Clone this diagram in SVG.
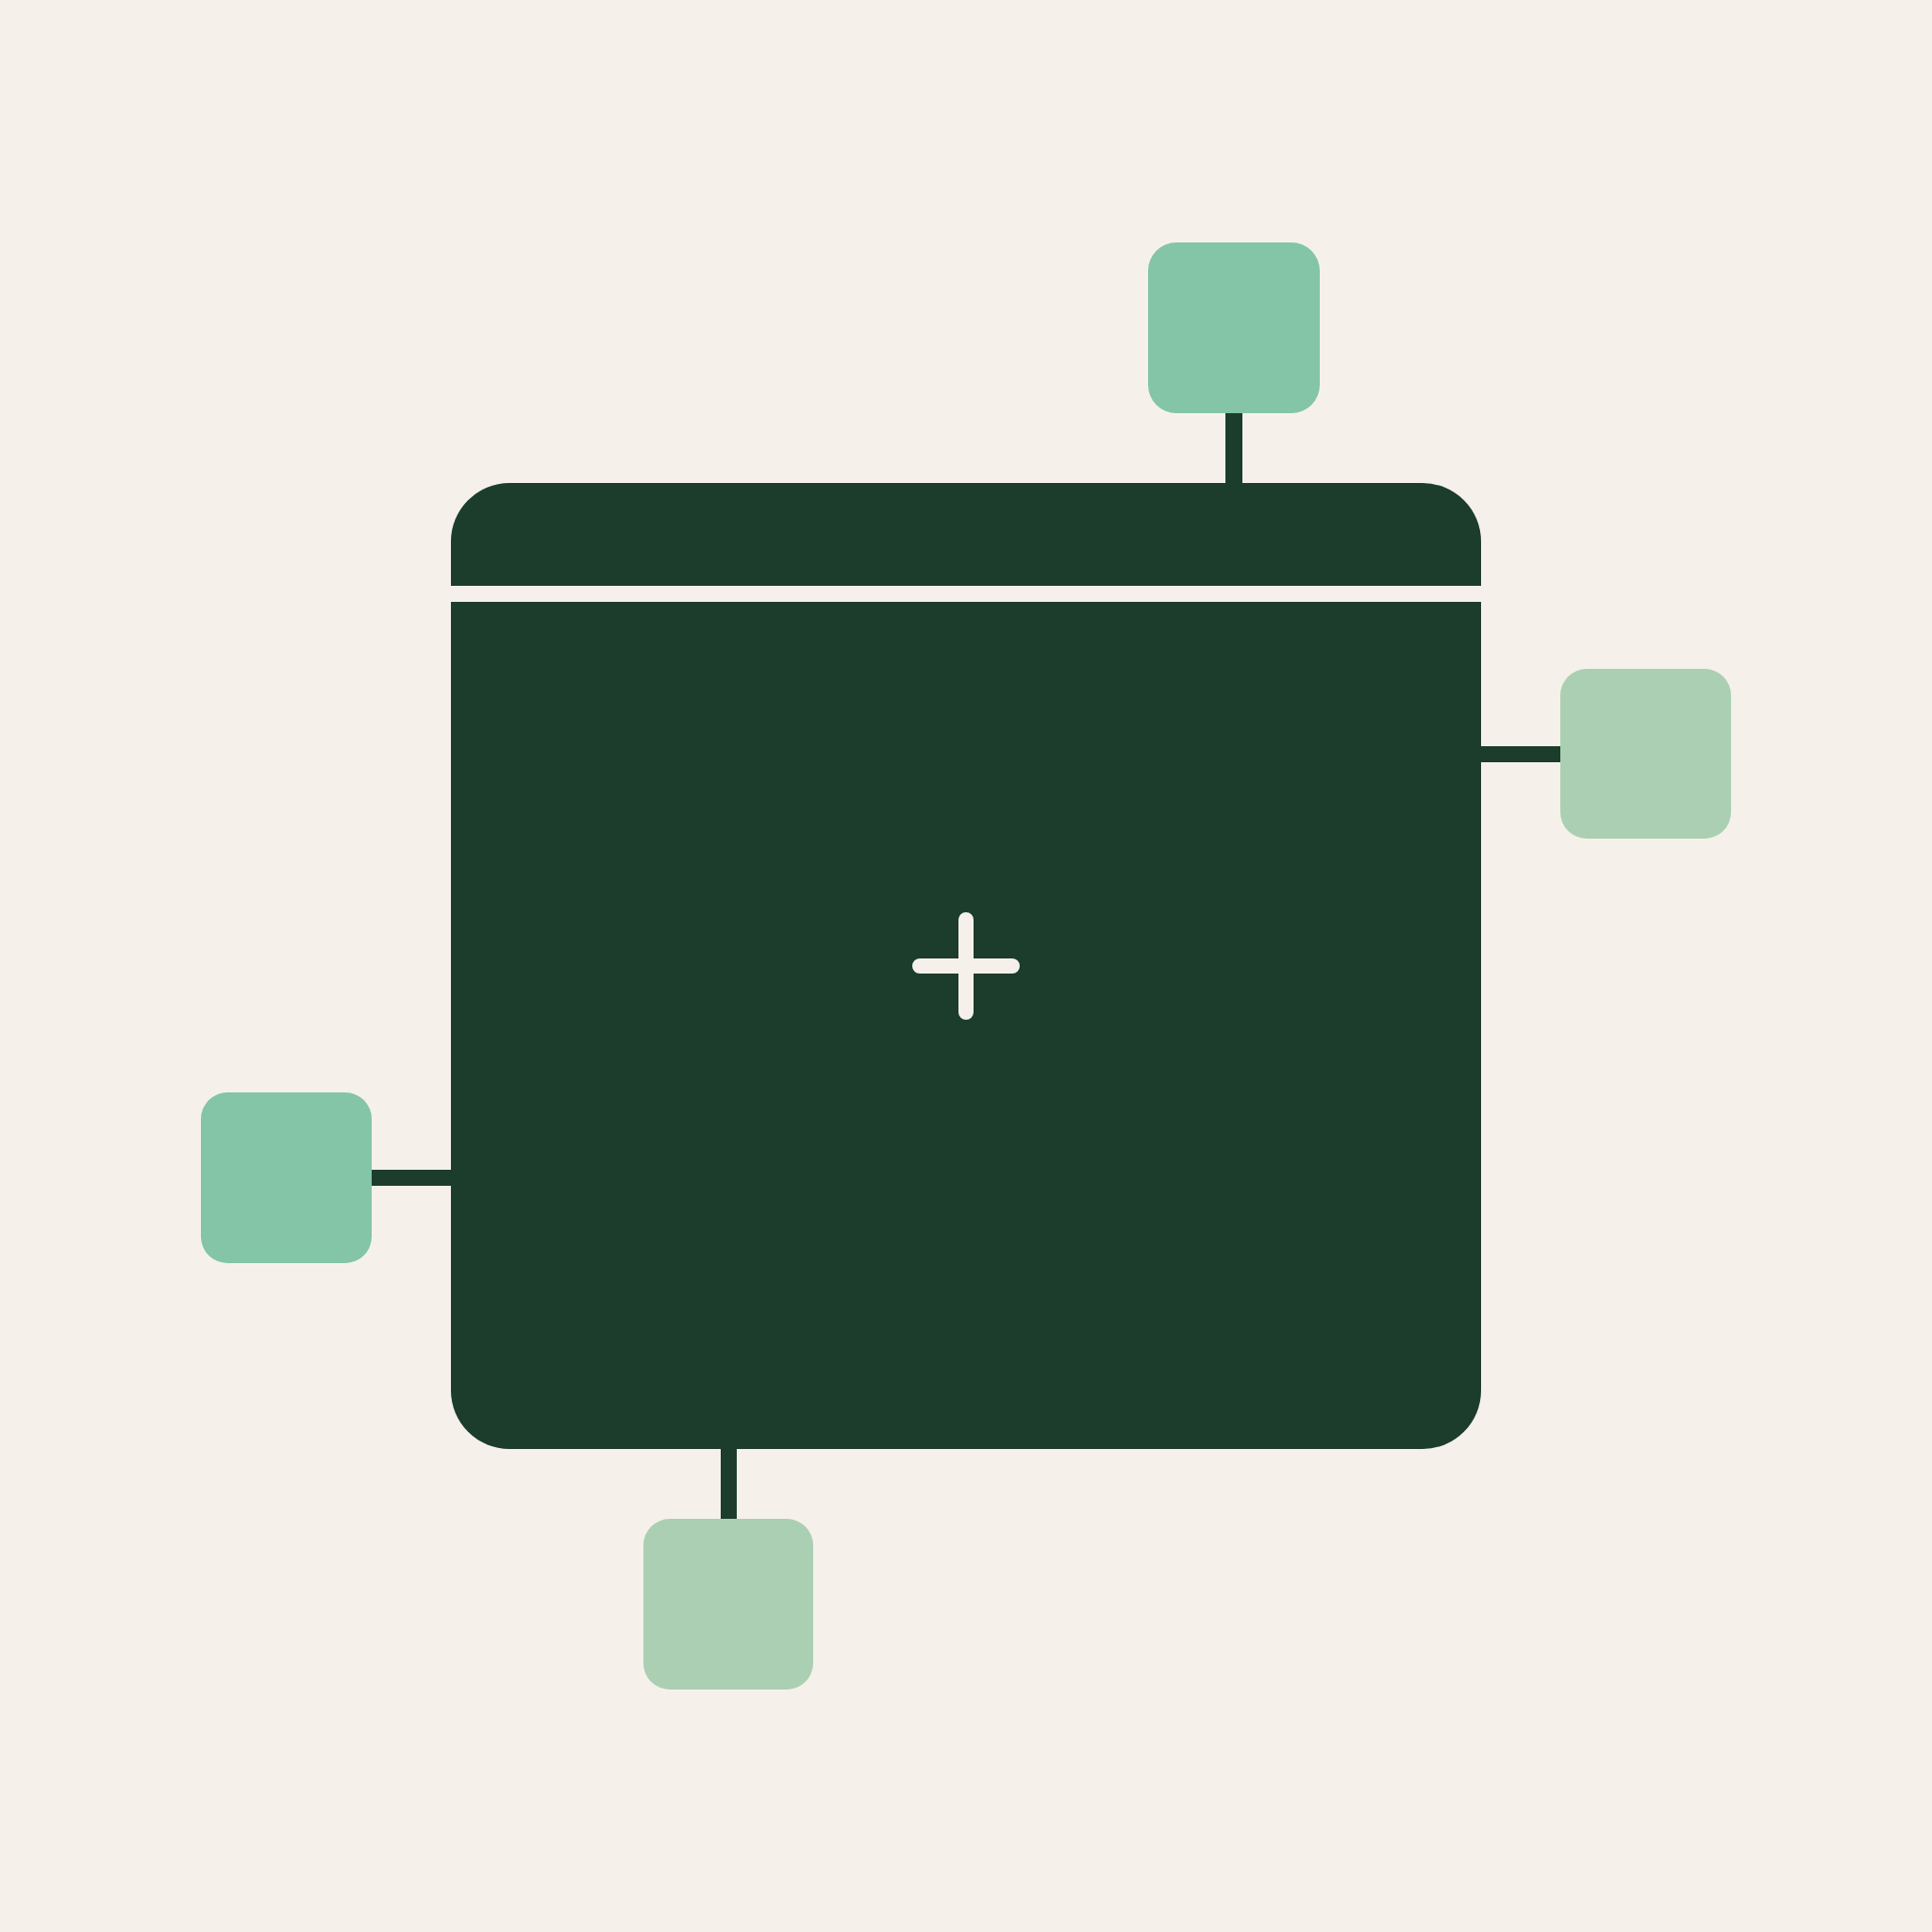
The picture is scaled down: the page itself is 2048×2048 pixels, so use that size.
<svg xmlns="http://www.w3.org/2000/svg" width="2048" height="2048" viewBox="0 0 2048 2048">
<style>
.bg{fill:#F5F1EA}
.main{fill:#1C3D2B}
.conn{fill:#1C3D2B}
.n1{fill:#83C5A6}
.n2{fill:#ABCFB3}
.plus{stroke:#F5F1EA;stroke-width:16;stroke-linecap:round;fill:none}
</style>
<rect class="bg" x="0" y="0" width="2048" height="2048"/>
<g id="connectors">
<rect class="conn" x="1299" y="436" width="18" height="80"/>
<rect class="conn" x="1566" y="791" width="92" height="17"/>
<rect class="conn" x="390" y="1240" width="92" height="17"/>
<rect class="conn" x="764" y="1532" width="17" height="82"/>
</g>
<g id="main">
<rect class="main" x="478" y="512" width="1092" height="1024" rx="62" ry="62"/>
<rect class="bg" x="478" y="621" width="1092" height="17"/>
<path class="plus" d="M1024 975 V1073 M975 1024 H1073"/>
</g>
<g id="node-top"><rect class="n1" x="1217" y="257" width="182" height="181" rx="30"/></g>
<g id="node-right"><rect class="n2" x="1654" y="709" width="181" height="180" rx="28"/></g>
<g id="node-left"><rect class="n1" x="213" y="1158" width="181" height="181" rx="28"/></g>
<g id="node-bottom"><rect class="n2" x="682" y="1610" width="180" height="181" rx="28"/></g>
</svg>
